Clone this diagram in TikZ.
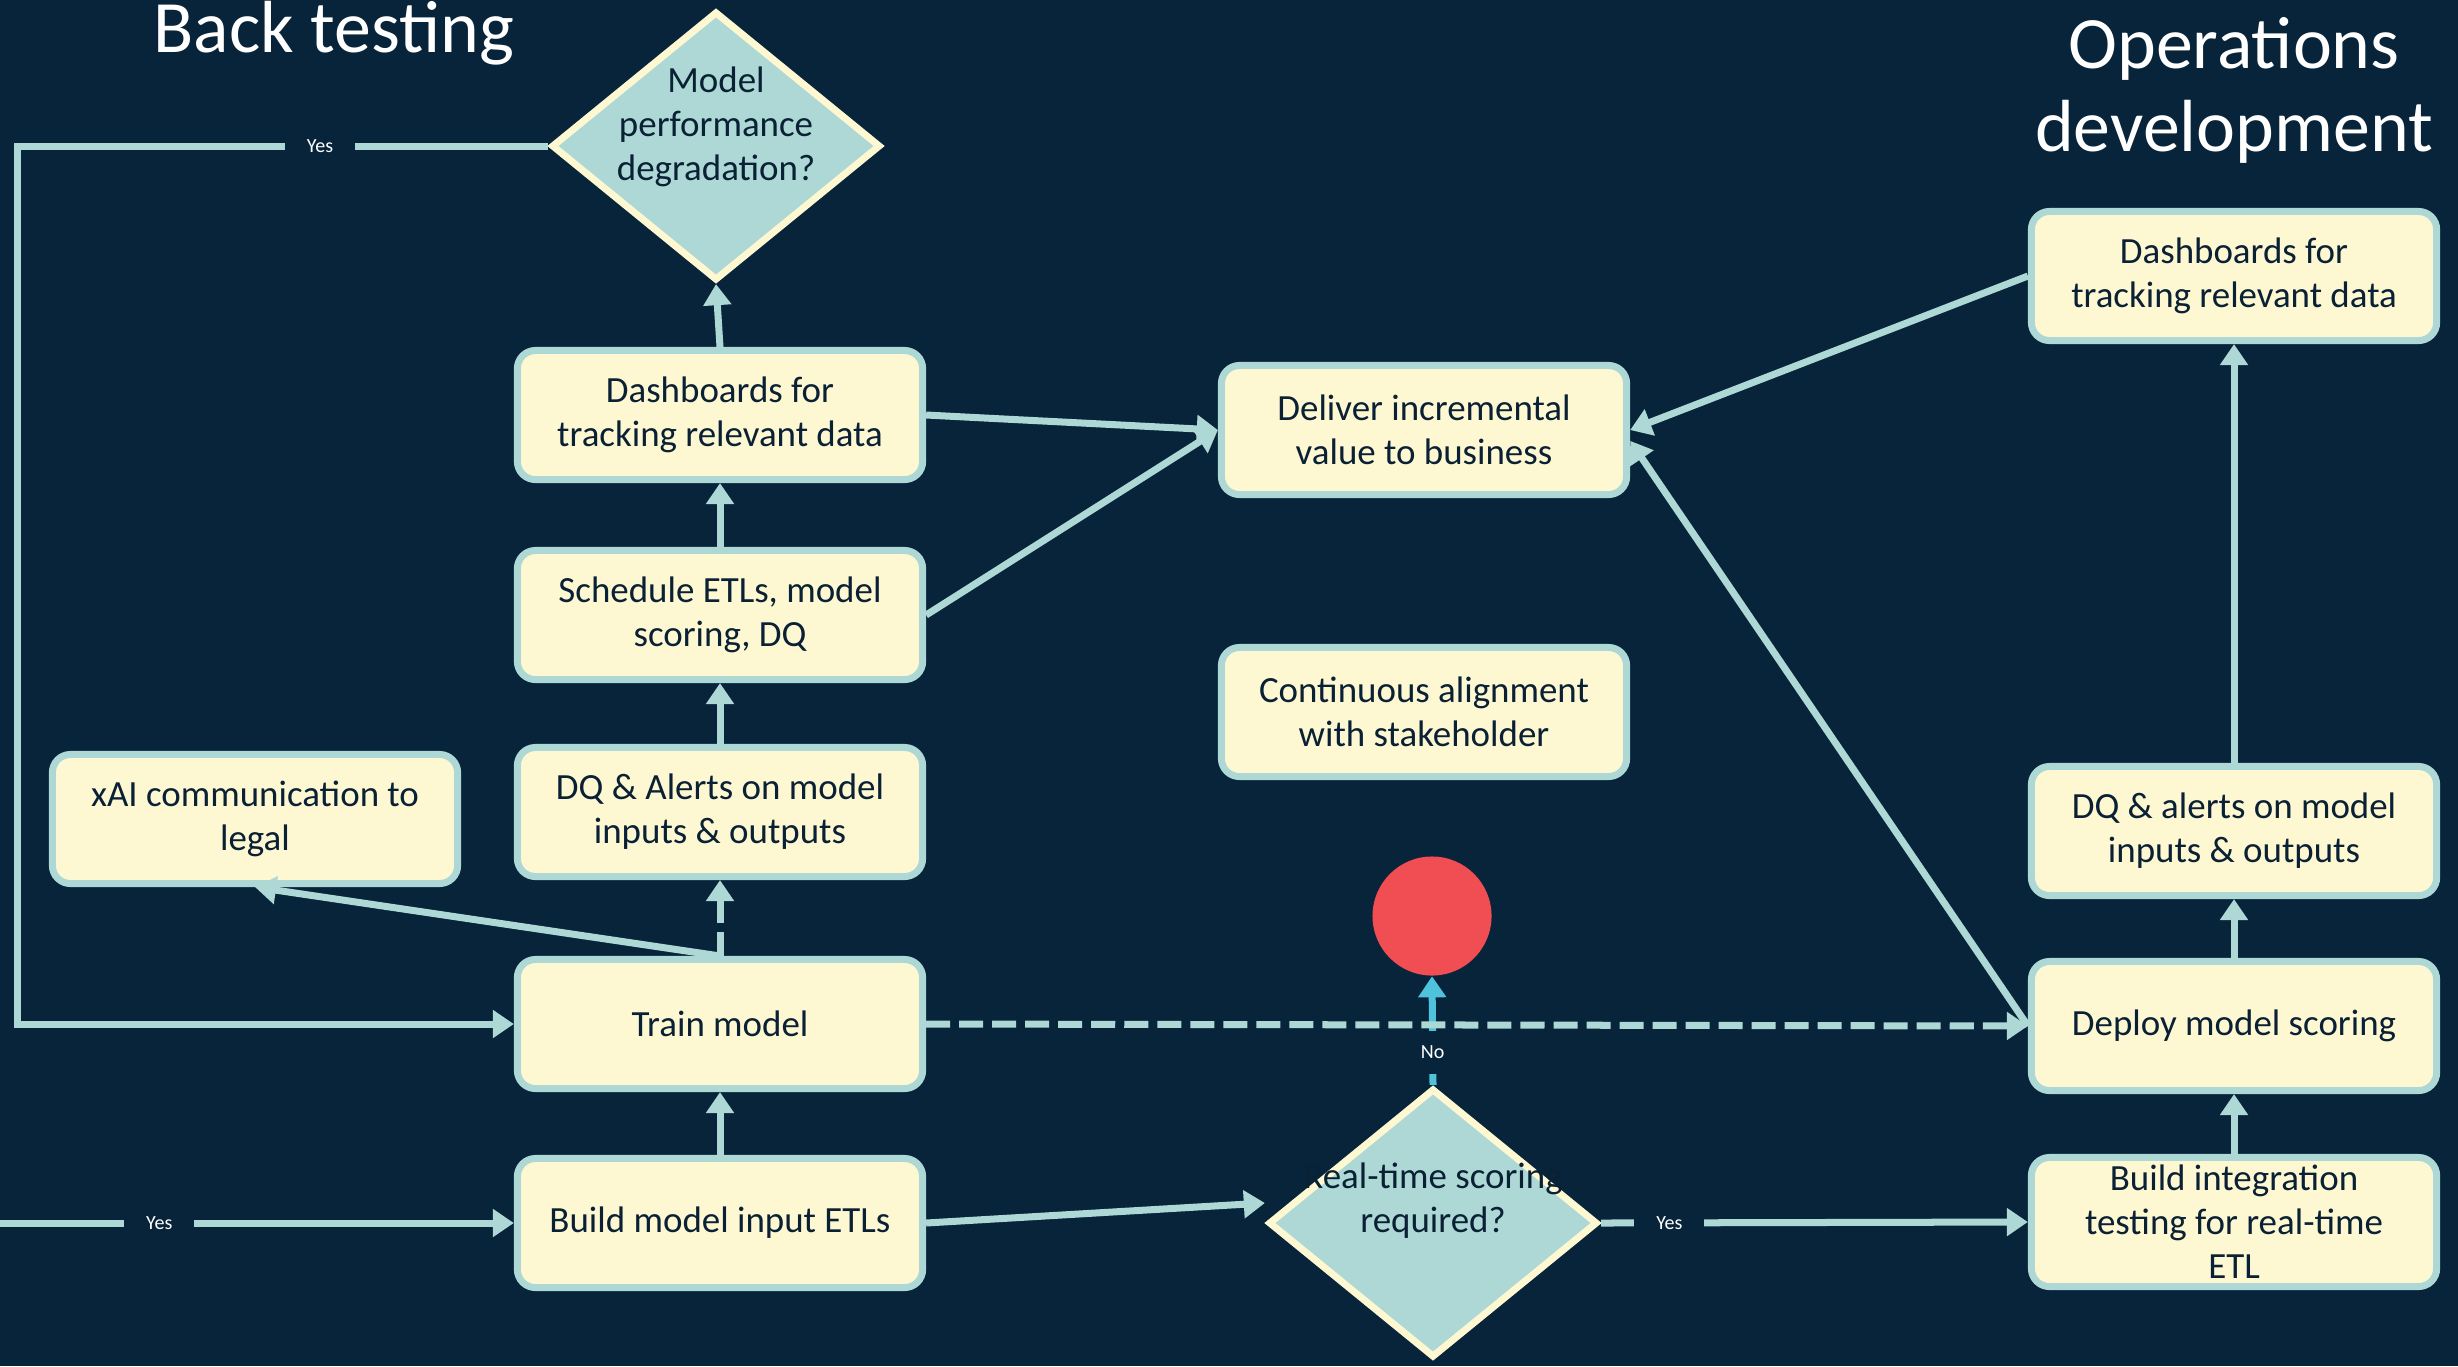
\documentclass[tikz,border=0pt]{standalone}
\usepackage{fontspec}
\setmainfont{Carlito}
\usetikzlibrary{shapes.geometric,arrows.meta}

\definecolor{bgnavy}{RGB}{7,36,58}
\definecolor{cream}{RGB}{253,248,210}
\definecolor{paleteal}{RGB}{173,216,213}
\definecolor{alarm}{RGB}{240,78,83}
\definecolor{cyanline}{RGB}{78,195,219}
\definecolor{inktext}{RGB}{10,32,52}

\newcommand{\boxfont}{\fontsize{10.5pt}{12.5pt}\selectfont}
\newcommand{\tinyfont}{\fontsize{5.7pt}{7pt}\selectfont}
\newcommand{\headfont}{\fontsize{21pt}{23.6pt}\selectfont}

\tikzset{
  box/.style={draw=paleteal, fill=cream, line width=0.07cm, rounded corners=0.18cm,
    minimum width=4.05cm, minimum height=1.29cm, inner sep=0pt, align=center,
    text=inktext, font=\boxfont},
  decision/.style={diamond, draw=cream, fill=paleteal, line width=0.07cm,
    minimum width=3.29cm, minimum height=2.69cm, inner sep=0pt},
  decisiontext/.style={align=center, text=inktext, font=\boxfont},
  flow/.style={draw=paleteal, line width=0.07cm, -{Triangle[length=6pt,width=7.7pt]}},
  dashflow/.style={flow, dash pattern=on 0.24cm off 0.09cm},
  noflow/.style={flow, draw=cyanline},
  yeslbl/.style={fill=bgnavy, text=white, font=\tinyfont, inner xsep=0.22cm, inner ysep=0.15cm},
  heading/.style={text=white, font=\headfont, align=center}
}

\begin{document}
\begin{tikzpicture}[x=0.01cm, y=-0.01cm] % back testing / operations flow
  \fill[bgnavy] (0,0) rectangle (2458,1366);
  \useasboundingbox (0,0) rectangle (2458,1366);

  % titles
  \node[heading, anchor=base] (bt) at (334,52) {Back testing};
  \node[heading] (od) at (2234,90) {Operations\\development};

  % back testing column
  \node[decision] (perf) at (716,146) {};
  \node[decisiontext] (perftxt) at (716,127) {Model\\performance\\degradation?};
  \node[box] (dashL) at (720,415) {Dashboards for\\tracking relevant data};
  \node[box] (sched) at (720,615) {Schedule ETLs, model\\scoring, DQ};
  \node[box] (dqL) at (720,812) {DQ \& Alerts on model\\inputs \& outputs};
  \node[box] (train) at (720,1024) {Train model};
  \node[box] (build) at (720,1223) {Build model input ETLs};
  \node[box] (xai) at (255,819) {xAI communication to\\legal};

  % middle
  \node[box] (deliver) at (1424,430) {Deliver incremental\\value to business};
  \node[box] (align) at (1424,712) {Continuous alignment\\with stakeholder};
  \node[circle, fill=alarm, minimum size=1.19cm, inner sep=0pt] (stop) at (1432,916) {};
  \node[decision] (rts) at (1433,1223) {};
  \node[decisiontext] (rtstxt) at (1433,1201) {Real-time scoring\\required?};

  % operations column
  \node[box] (dashR) at (2234,276) {Dashboards for\\tracking relevant data};
  \node[box] (dqR) at (2234,831) {DQ \& alerts on model\\inputs \& outputs};
  \node[box] (deploy) at (2234,1026) {Deploy model scoring};
  \node[box] (integ) at (2234,1222) {Build integration\\testing for real-time\\ETL};

  \coordinate (edge) at (0,1223);

  % connectors
  \draw[flow] (perf.west) -- node[yeslbl, pos=0.43] (yes1) {Yes} ++(-530,0) |- (train.west);
  \draw[flow] (dashL.north) -- (perf.south);
  \draw[flow] (sched.north) -- (dashL.south);
  \draw[flow] (dqL.north) -- (sched.south);
  \draw[dashflow] (train.north) -- (dqL.south);
  \draw[flow] (build.north) -- (train.south);
  \draw[flow] (train.north) -- (xai.south);
  \draw[flow] (dashL.east) -- (deliver.west);
  \draw[flow] (sched.east) -- (deliver.west);
  \draw[flow] (dashR.west) -- (deliver.east);
  \draw[flow] (deploy.west) -- (deliver.-3);
  \draw[flow] (edge) -- node[yeslbl, pos=0.31] (yes2) {Yes} (build.west);
  \draw[flow] (build.east) -- ([yshift=0.2cm]rts.west);
  \draw[flow] (rts.east) -- node[yeslbl, pos=0.16] (yes3) {Yes} (integ.west);
  \draw[noflow] (rts.north) -- node[yeslbl, pos=0.3] (no1) {No} (stop.south);
  \draw[dashflow] (train.east) -- (deploy.west);
  \draw[flow] (integ.north) -- (deploy.south);
  \draw[flow] (deploy.north) -- (dqR.south);
  \draw[flow] (dqR.north) -- (dashR.south);
\end{tikzpicture}
\end{document}
